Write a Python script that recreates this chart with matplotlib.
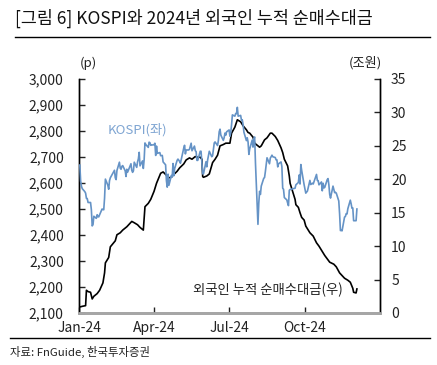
import matplotlib
matplotlib.use('Agg')
import matplotlib.pyplot as plt
import matplotlib.dates as mdates
import matplotlib.ticker as mticker
import pandas as pd

plt.rcParams['font.family'] = ['Noto Sans CJK KR', 'DejaVu Sans']

# KOSPI (left axis, p)
kospi_dates = ['2024-01-02', '2024-01-03', '2024-01-04', '2024-01-05', '2024-01-08', '2024-01-09',
               '2024-01-10', '2024-01-11', '2024-01-12', '2024-01-15', '2024-01-16', '2024-01-17',
               '2024-01-18', '2024-01-19', '2024-01-22', '2024-01-23', '2024-01-24', '2024-01-25',
               '2024-01-26', '2024-01-29', '2024-01-30', '2024-01-31', '2024-02-01', '2024-02-02',
               '2024-02-05', '2024-02-06', '2024-02-07', '2024-02-08', '2024-02-13', '2024-02-14',
               '2024-02-15', '2024-02-16', '2024-02-19', '2024-02-20', '2024-02-21', '2024-02-22',
               '2024-02-23', '2024-02-26', '2024-02-27', '2024-02-28', '2024-02-29', '2024-03-04',
               '2024-03-05', '2024-03-06', '2024-03-07', '2024-03-08', '2024-03-11', '2024-03-12',
               '2024-03-13', '2024-03-14', '2024-03-15', '2024-03-18', '2024-03-19', '2024-03-20',
               '2024-03-21', '2024-03-22', '2024-03-25', '2024-03-26', '2024-03-27', '2024-03-28',
               '2024-03-29', '2024-04-01', '2024-04-02', '2024-04-03', '2024-04-04', '2024-04-05',
               '2024-04-08', '2024-04-09', '2024-04-11', '2024-04-12', '2024-04-15', '2024-04-16',
               '2024-04-17', '2024-04-18', '2024-04-19', '2024-04-22', '2024-04-23', '2024-04-24',
               '2024-04-25', '2024-04-26', '2024-04-29', '2024-04-30', '2024-05-02', '2024-05-03',
               '2024-05-07', '2024-05-08', '2024-05-09', '2024-05-10', '2024-05-13', '2024-05-14',
               '2024-05-16', '2024-05-17', '2024-05-20', '2024-05-21', '2024-05-22', '2024-05-23',
               '2024-05-24', '2024-05-27', '2024-05-28', '2024-05-29', '2024-05-30', '2024-05-31',
               '2024-06-03', '2024-06-04', '2024-06-05', '2024-06-07', '2024-06-10', '2024-06-11',
               '2024-06-12', '2024-06-13', '2024-06-14', '2024-06-17', '2024-06-18', '2024-06-19',
               '2024-06-20', '2024-06-21', '2024-06-24', '2024-06-25', '2024-06-26', '2024-06-27',
               '2024-06-28', '2024-07-01', '2024-07-02', '2024-07-03', '2024-07-04', '2024-07-05',
               '2024-07-08', '2024-07-09', '2024-07-10', '2024-07-11', '2024-07-12', '2024-07-15',
               '2024-07-16', '2024-07-17', '2024-07-18', '2024-07-19', '2024-07-22', '2024-07-23',
               '2024-07-24', '2024-07-25', '2024-07-26', '2024-07-29', '2024-07-30', '2024-07-31',
               '2024-08-01', '2024-08-02', '2024-08-05', '2024-08-06', '2024-08-07', '2024-08-08',
               '2024-08-09', '2024-08-12', '2024-08-13', '2024-08-14', '2024-08-16', '2024-08-19',
               '2024-08-20', '2024-08-21', '2024-08-22', '2024-08-23', '2024-08-26', '2024-08-27',
               '2024-08-28', '2024-08-29', '2024-08-30', '2024-09-02', '2024-09-03', '2024-09-04',
               '2024-09-05', '2024-09-06', '2024-09-09', '2024-09-10', '2024-09-11', '2024-09-12',
               '2024-09-13', '2024-09-19', '2024-09-20', '2024-09-23', '2024-09-24', '2024-09-25',
               '2024-09-26', '2024-09-27', '2024-09-30', '2024-10-02', '2024-10-04', '2024-10-07',
               '2024-10-08', '2024-10-10', '2024-10-11', '2024-10-14', '2024-10-15', '2024-10-16',
               '2024-10-17', '2024-10-18', '2024-10-21', '2024-10-22', '2024-10-23', '2024-10-24',
               '2024-10-25', '2024-10-28', '2024-10-29', '2024-10-30', '2024-10-31', '2024-11-01',
               '2024-11-04', '2024-11-05', '2024-11-06', '2024-11-07', '2024-11-08', '2024-11-11',
               '2024-11-12', '2024-11-13', '2024-11-14', '2024-11-15', '2024-11-18', '2024-11-19',
               '2024-11-20', '2024-11-21', '2024-11-22', '2024-11-25', '2024-11-26', '2024-11-27',
               '2024-11-28', '2024-11-29', '2024-12-02', '2024-12-03']
kospi = [2669, 2607, 2587, 2578, 2567, 2561, 2541, 2540, 2525, 2525, 2497, 2435,
         2440, 2472, 2464, 2478, 2470, 2470, 2478, 2500, 2498, 2497, 2542, 2615,
         2591, 2576, 2609, 2620, 2649, 2620, 2613, 2648, 2680, 2657, 2653, 2664,
         2667, 2647, 2625, 2653, 2642, 2674, 2649, 2641, 2647, 2680, 2660, 2681,
         2693, 2718, 2666, 2685, 2656, 2690, 2754, 2748, 2737, 2757, 2755, 2745,
         2746, 2747, 2753, 2706, 2742, 2714, 2717, 2705, 2706, 2681, 2670, 2609,
         2584, 2634, 2591, 2629, 2623, 2675, 2628, 2656, 2687, 2692, 2683, 2676,
         2734, 2745, 2712, 2727, 2727, 2730, 2753, 2724, 2742, 2724, 2721, 2687,
         2687, 2722, 2722, 2677, 2635, 2636, 2682, 2662, 2689, 2722, 2701, 2705,
         2728, 2754, 2758, 2744, 2763, 2797, 2807, 2784, 2764, 2774, 2792, 2784,
         2797, 2804, 2780, 2794, 2824, 2862, 2857, 2867, 2867, 2891, 2857, 2860,
         2842, 2843, 2824, 2795, 2763, 2774, 2758, 2710, 2731, 2765, 2738, 2770,
         2777, 2676, 2441, 2522, 2568, 2556, 2588, 2618, 2621, 2644, 2697, 2674,
         2696, 2701, 2707, 2701, 2698, 2689, 2689, 2662, 2674, 2681, 2664, 2580,
         2576, 2544, 2535, 2523, 2513, 2572, 2575, 2580, 2593, 2602, 2631, 2596,
         2671, 2649, 2593, 2561, 2569, 2610, 2594, 2599, 2596, 2623, 2633, 2610,
         2609, 2593, 2604, 2570, 2599, 2581, 2583, 2613, 2617, 2593, 2556, 2542,
         2588, 2576, 2563, 2564, 2561, 2531, 2482, 2417, 2418, 2416, 2469, 2471,
         2482, 2481, 2501, 2534, 2520, 2503, 2504, 2455, 2455, 2500]

# foreign cumulative net buying (right axis, trillion won)
frgn_dates = ['2024-01-02', '2024-01-05', '2024-01-09', '2024-01-10', '2024-01-12', '2024-01-15',
              '2024-01-17', '2024-01-19', '2024-01-23', '2024-01-26', '2024-01-30', '2024-02-01',
              '2024-02-02', '2024-02-06', '2024-02-08', '2024-02-14', '2024-02-16', '2024-02-20',
              '2024-02-23', '2024-02-28', '2024-03-05', '2024-03-08', '2024-03-12', '2024-03-15',
              '2024-03-19', '2024-03-21', '2024-03-25', '2024-03-28', '2024-04-01', '2024-04-04',
              '2024-04-09', '2024-04-12', '2024-04-16', '2024-04-18', '2024-04-22', '2024-04-24',
              '2024-04-29', '2024-05-02', '2024-05-07', '2024-05-10', '2024-05-14', '2024-05-17',
              '2024-05-21', '2024-05-23', '2024-05-27', '2024-05-29', '2024-05-30', '2024-05-31',
              '2024-06-04', '2024-06-07', '2024-06-11', '2024-06-14', '2024-06-17', '2024-06-20',
              '2024-06-24', '2024-06-27', '2024-07-02', '2024-07-04', '2024-07-08', '2024-07-11',
              '2024-07-15', '2024-07-18', '2024-07-22', '2024-07-24', '2024-07-26', '2024-07-30',
              '2024-08-01', '2024-08-05', '2024-08-07', '2024-08-09', '2024-08-13', '2024-08-16',
              '2024-08-20', '2024-08-22', '2024-08-26', '2024-08-29', '2024-09-02', '2024-09-04',
              '2024-09-06', '2024-09-10', '2024-09-12', '2024-09-13', '2024-09-19', '2024-09-20',
              '2024-09-23', '2024-09-25', '2024-09-27', '2024-09-30', '2024-10-02', '2024-10-07',
              '2024-10-11', '2024-10-15', '2024-10-18', '2024-10-21', '2024-10-25', '2024-10-31',
              '2024-11-05', '2024-11-08', '2024-11-12', '2024-11-15', '2024-11-18', '2024-11-22',
              '2024-11-25', '2024-11-28', '2024-11-29', '2024-12-02', '2024-12-03']
frgn = [0.9, 1.0, 1.1, 3.4, 3.2, 3.1,
        2.1, 2.5, 2.9, 3.4, 4.5, 6.0,
        7.5, 8.3, 9.9, 10.8, 11.7, 12.0,
        12.4, 12.9, 13.7, 13.5, 13.2, 12.8,
        12.4, 15.9, 16.4, 17.0, 18.2, 19.4,
        20.9, 21.1, 20.6, 20.2, 20.3, 20.6,
        21.2, 21.7, 22.3, 22.9, 23.2, 23.0,
        23.4, 23.3, 23.3, 23.0, 20.4, 20.3,
        20.5, 20.8, 22.5, 23.0, 23.6, 25.0,
        25.2, 25.4, 25.4, 26.9, 27.8, 28.9,
        28.6, 28.0, 27.4, 27.0, 26.9, 26.3,
        25.4, 25.0, 24.8, 25.0, 25.9, 26.2,
        26.9, 26.9, 26.4, 25.8, 24.7, 24.0,
        23.0, 22.0, 20.5, 19.4, 17.0, 16.2,
        15.8, 15.0, 14.3, 13.9, 13.0, 12.0,
        11.5, 10.5, 10.0, 9.4, 8.6, 7.6,
        7.3, 6.9, 6.0, 5.6, 5.2, 4.9,
        4.6, 3.7, 3.1, 3.0, 3.6]

left_ticks = list(range(2100, 3001, 100))
right_ticks = list(range(0, 36, 5))

blue = '#6593C6'
txt = '#222222'

fig = plt.figure(figsize=(4.37, 3.65), dpi=100)
ax = fig.add_axes([79 / 437, 1 - 313 / 365, 301 / 437, 234 / 365])
ax2 = ax.twinx()

ax.plot(pd.to_datetime(kospi_dates), kospi, color=blue, lw=1.2, zorder=3)
ax2.plot(pd.to_datetime(frgn_dates), frgn, color='black', lw=1.2)

ax.set_ylim(2100, 3000)
ax.set_yticks(left_ticks)
ax.yaxis.set_major_formatter(mticker.FuncFormatter(lambda v, p: f'{int(v):,}'))
ax2.set_ylim(0, 35)
ax2.set_yticks(right_ticks)

ax.set_xlim(pd.Timestamp('2024-01-01'), pd.Timestamp('2024-12-31'))
ax.set_xticks(pd.to_datetime(['2024-01-01', '2024-04-01', '2024-07-01', '2024-10-01']))
ax.xaxis.set_major_formatter(mdates.DateFormatter('%b-%y'))

for a in (ax, ax2):
    a.spines['top'].set_visible(False)
    a.spines['bottom'].set_color('#A6A6A6')
    a.spines['bottom'].set_linewidth(2)
    a.spines['left'].set_linewidth(1)
    a.spines['right'].set_linewidth(1)
ax.tick_params(axis='y', direction='in', length=4, width=1, labelsize=10, colors=txt, pad=11)
ax2.tick_params(axis='y', direction='in', length=4, width=1, labelsize=10, colors=txt, pad=8)
ax.tick_params(axis='x', direction='in', length=4, width=1, labelsize=10, colors=txt, pad=5.5)
ax.set_zorder(ax2.get_zorder() + 1)
ax.patch.set_visible(False)

fig.text(108 / 437, 1 - 130 / 365, 'KOSPI(좌)', color='#7FA5D2', fontsize=9.5,
         va='center', ha='left')
fig.text(193 / 437, 1 - 290 / 365, '외국인 누적 순매수대금(우)', color=txt, fontsize=9.6,
         va='center', ha='left')

fig.text(80 / 437, 1 - 63 / 365, '(p)', fontsize=9.5, color=txt, va='center')
fig.text(349 / 437, 1 - 63 / 365, '(조원)', fontsize=9.5, color=txt, va='center')

fig.text(15 / 437, 1 - 18 / 365, '[그림 6] KOSPI와 2024년 외국인 누적 순매수대금', fontsize=12.5,
         color='#111111', va='center', ha='left')
fig.add_artist(plt.Line2D([15 / 437, 430 / 437], [1 - 37 / 365] * 2, color='black', lw=1))
fig.add_artist(plt.Line2D([10 / 437, 430 / 437], [1 - 338 / 365] * 2, color='black', lw=1))
fig.text(10 / 437, 1 - 352 / 365, '자료: FnGuide, 한국투자증권', fontsize=8.2, color=txt,
         va='center', ha='left')

fig.savefig('out.png', dpi=100)
